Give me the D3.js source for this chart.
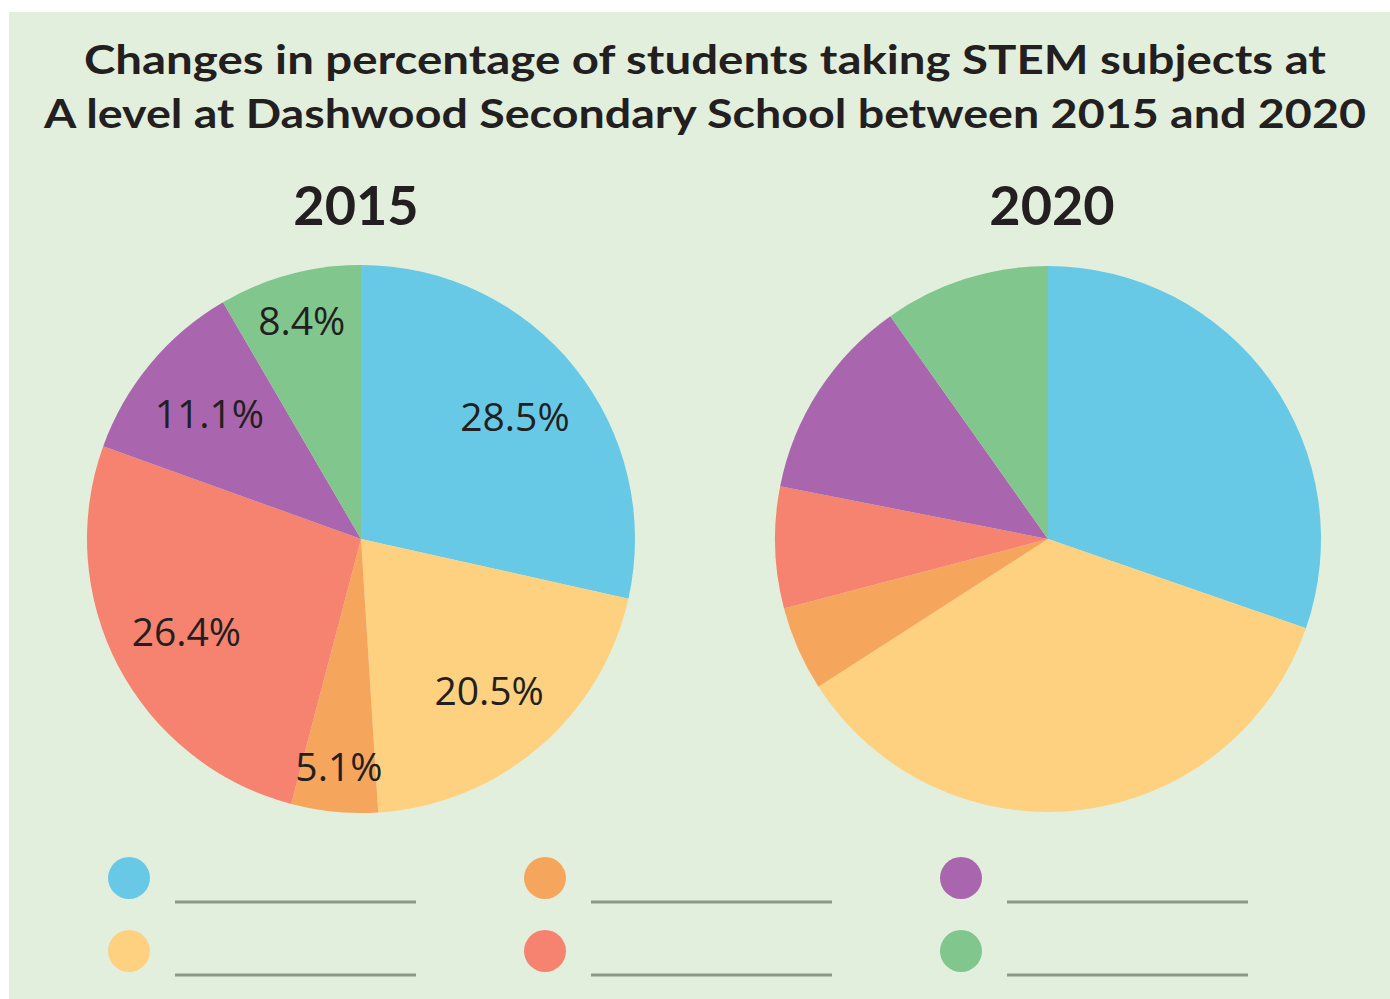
<!DOCTYPE html>
<html>
<head>
<meta charset="utf-8">
<script src="https://cdn.jsdelivr.net/npm/d3@7"></script>
<style>
  html, body { margin: 0; padding: 0; background: #ffffff; }
  svg { display: block; }
</style>
</head>
<body>
<svg id="chart" width="1390" height="999"></svg>
<script>
// ---- data ----
const categories = ["Blue", "Yellow", "Orange", "Red", "Purple", "Green"];
const values2015 = [28.5, 20.5, 5.1, 26.4, 11.1, 8.4];
const values2020 = [30.3, 35.6, 5.0, 7.2, 12.1, 9.8];
const labels2015 = ["28.5%", "20.5%", "5.1%", "26.4%", "11.1%", "8.4%"];
const labels2020 = ["", "", "", "", "", ""];
const years = ["2015", "2020"];
const titleLines = [
  "Changes in percentage of students taking STEM subjects at",
  "A level at Dashwood Secondary School between 2015 and 2020"
];
const colours = ["#67c9e6", "#fdd17f", "#f6a55d", "#f5836f", "#a966ae", "#80c68d"];

// ---- drawing ----
const svg = d3.select("#chart");
const W = 1390, H = 999;

svg.append("rect").attr("x", 0).attr("y", 0).attr("width", W).attr("height", H).attr("fill", "#ffffff");
svg.append("rect").attr("x", 9).attr("y", 12).attr("width", W - 9).attr("height", H - 12).attr("fill", "#e3efdd");

const titleFont = "Lato, 'Open Sans', 'DejaVu Sans', sans-serif";

svg.selectAll("text.title").data(titleLines).join("text")
  .attr("class", "title")
  .attr("x", 705)
  .attr("y", (d, i) => 74 + i * 54)
  .attr("text-anchor", "middle")
  .attr("font-family", titleFont)
  .attr("font-weight", 700)
  .attr("font-size", 41)
  .attr("fill", "#231f20")
  .attr("textLength", (d, i) => i === 0 ? 1242 : 1322)
  .attr("lengthAdjust", "spacingAndGlyphs")
  .text(d => d);

const pies = [
  { year: years[0], values: values2015, labels: labels2015, cx: 361, cy: 539, r: 274, ylab: 356 },
  { year: years[1], values: values2020, labels: labels2020, cx: 1048, cy: 539, r: 273, ylab: 1052 }
];

const pie = d3.pie().sort(null).value(d => d);

pies.forEach(p => {
  svg.append("text")
    .attr("x", p.ylab)
    .attr("y", 225)
    .attr("text-anchor", "middle")
    .attr("font-family", titleFont)
    .attr("font-weight", 700)
    .attr("font-size", 54)
    .attr("fill", "#231f20")
    .text(p.year);

  const g = svg.append("g").attr("transform", `translate(${p.cx},${p.cy})`);
  const arc = d3.arc().innerRadius(0).outerRadius(p.r);
  const arcs = pie(p.values);

  g.selectAll("path").data(arcs).join("path")
    .attr("d", arc)
    .attr("fill", (d, i) => colours[i]);

  g.selectAll("text").data(arcs).join("text")
    .attr("transform", (d, i) => {
      const frac = (d.value < 10) ? 0.83 : 0.72;
      const la = d3.arc().innerRadius(p.r * frac).outerRadius(p.r * frac);
      const c = la.centroid(d);
      return `translate(${c[0]},${c[1]})`;
    })
    .attr("text-anchor", "middle")
    .attr("dominant-baseline", "central")
    .attr("font-family", "'Open Sans', Lato, 'DejaVu Sans', sans-serif")
    .attr("font-weight", 400)
    .attr("font-size", 39)
    .attr("fill", "#231f20")
    .text((d, i) => p.labels[i]);
});

// ---- legend ----
const legendCols = [129, 545, 961];
const legendRows = [878, 951];
const legendItems = categories.map((c, i) => ({
  cat: c,
  col: Math.floor(i / 2),
  row: i % 2,
  colour: colours[i]
}));

const lg = svg.append("g");
lg.selectAll("circle").data(legendItems).join("circle")
  .attr("cx", d => legendCols[d.col])
  .attr("cy", d => legendRows[d.row])
  .attr("r", 21)
  .attr("fill", d => d.colour);

lg.selectAll("line").data(legendItems).join("line")
  .attr("x1", d => legendCols[d.col] + 46)
  .attr("x2", d => legendCols[d.col] + 287)
  .attr("y1", d => legendRows[d.row] + 24)
  .attr("y2", d => legendRows[d.row] + 24)
  .attr("stroke", "#8a9a86")
  .attr("stroke-width", 3);
</script>
</body>
</html>
